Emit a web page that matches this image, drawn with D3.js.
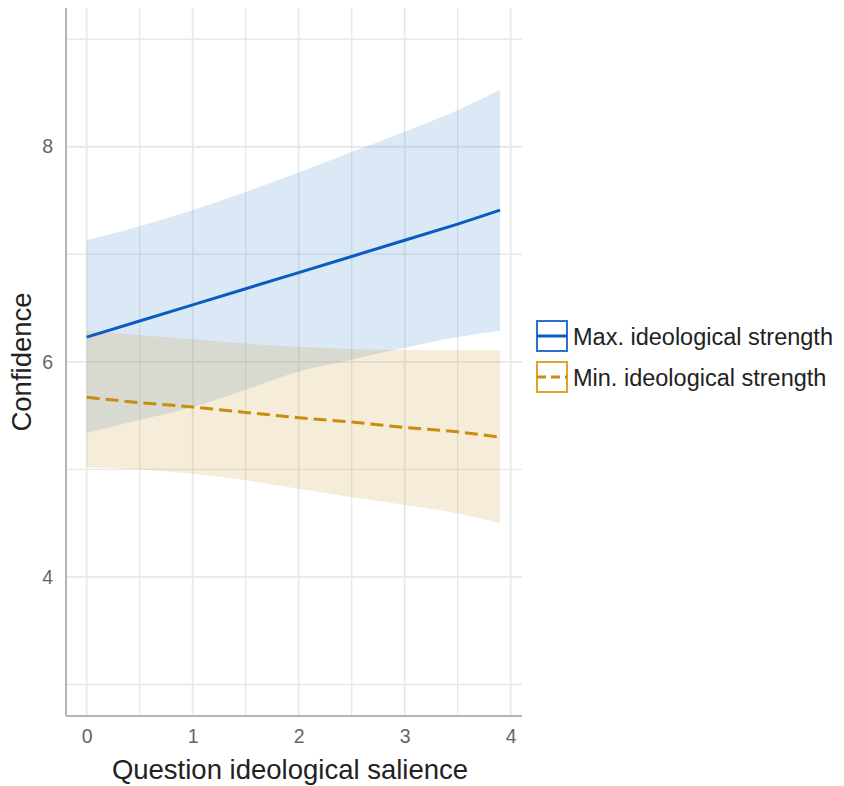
<!DOCTYPE html>
<html><head><meta charset="utf-8">
<script src="https://cdn.jsdelivr.net/npm/d3@7"></script>
<style>body{margin:0;background:#fff}svg{display:block}</style>
</head><body>
<svg id="c" width="844" height="786"></svg>
<script>
const xs        = [0, 0.5, 1, 1.5, 2, 2.5, 3, 3.5, 3.9];
const maxFit    = [6.23, 6.38, 6.53, 6.68, 6.83, 6.98, 7.13, 7.28, 7.41];
const maxLower  = [5.34, 5.46, 5.58, 5.74, 5.91, 6.02, 6.13, 6.23, 6.29];
const maxUpper  = [7.13, 7.26, 7.41, 7.58, 7.76, 7.95, 8.14, 8.34, 8.53];
const minFit    = [5.67, 5.62, 5.58, 5.53, 5.48, 5.44, 5.39, 5.35, 5.30];
const minLower  = [5.02, 5.00, 4.96, 4.90, 4.82, 4.74, 4.67, 4.59, 4.50];
const minUpper  = [6.29, 6.25, 6.21, 6.17, 6.14, 6.12, 6.11, 6.11, 6.11];
const seriesNames = ["Max. ideological strength", "Min. ideological strength"];
const xTicks = [0, 1, 2, 3, 4];
const yTicks = [4, 6, 8];
const xLabel = "Question ideological salience";
const yLabel = "Confidence";

const FONT = "Liberation Sans, Arial, sans-serif";
const svg = d3.select("#c");
const L = 66, R = 522, T = 8, B = 716;
const x = d3.scaleLinear().domain([-0.195, 4.107]).range([L, R]);
const y = d3.scaleLinear().domain([2.707, 9.29]).range([B, T]);

const grid = svg.append("g");
d3.range(0, 4.01, 0.5).forEach(v => {
  grid.append("line").attr("x1", x(v)).attr("x2", x(v)).attr("y1", T).attr("y2", B)
    .attr("stroke", "#e8e8e8").attr("stroke-width", v % 1 === 0 ? 1.8 : 1.4);
});
[3, 4, 5, 6, 7, 8, 9].forEach(v => {
  grid.append("line").attr("x1", L).attr("x2", R).attr("y1", y(v)).attr("y2", y(v))
    .attr("stroke", "#e8e8e8").attr("stroke-width", v % 2 === 0 ? 1.8 : 1.4);
});

const blueFill = "#4b8cd2", orgFill = "#cda541";
const blueLine = "#0a5cc2", orgLine = "#c98d0e";

const area = (lo, hi) => d3.area().curve(d3.curveMonotoneX)
  .x((d, i) => x(xs[i])).y0((d, i) => y(lo[i])).y1((d, i) => y(hi[i]))(xs);
svg.append("path").attr("d", area(maxLower, maxUpper)).attr("fill", blueFill).attr("fill-opacity", 0.2);
svg.append("path").attr("d", area(minLower, minUpper)).attr("fill", orgFill).attr("fill-opacity", 0.2);

const line = vals => d3.line().x((d, i) => x(xs[i])).y((d, i) => y(vals[i]))(xs);
svg.append("path").attr("d", line(maxFit)).attr("fill", "none").attr("stroke", blueLine).attr("stroke-width", 3);
svg.append("path").attr("d", line(minFit)).attr("fill", "none").attr("stroke", orgLine).attr("stroke-width", 3)
  .attr("stroke-dasharray", "13,6");

const xAxis = svg.append("g").attr("transform", `translate(0,${B})`)
  .call(d3.axisBottom(x).tickValues(xTicks).tickSize(0).tickPadding(13).tickFormat(d3.format("d")));
const yAxis = svg.append("g").attr("transform", `translate(${L},0)`)
  .call(d3.axisLeft(y).tickValues(yTicks).tickSize(0).tickPadding(13).tickFormat(d3.format("d")));
[xAxis, yAxis].forEach(a => {
  a.select(".domain").attr("stroke", "#b5b5b5").attr("stroke-width", 2);
  a.selectAll("text").attr("font-family", FONT).attr("font-size", 19.5).attr("fill", "#666");
});
xAxis.select(".domain").attr("d", `M${L},0H${R}`);
yAxis.select(".domain").attr("d", `M0,${T}V${B}`);

svg.append("text").attr("x", 290).attr("y", 779).attr("text-anchor", "middle")
  .attr("font-family", FONT).attr("font-size", 27.5).attr("fill", "#222").text(xLabel);
svg.append("text").attr("transform", `translate(31,362) rotate(-90)`).attr("text-anchor", "middle")
  .attr("font-family", FONT).attr("font-size", 27.5).attr("fill", "#222").text(yLabel);

const leg = svg.append("g");
const legItems = [
  {name: seriesNames[0], stroke: blueLine, box: "#2a73cc", dash: null},
  {name: seriesNames[1], stroke: orgLine, box: "#e0a32a", dash: "9,5"}
];
legItems.forEach((d, i) => {
  const g = leg.append("g").attr("transform", `translate(537,${321 + i * 41})`);
  g.append("rect").attr("width", 30).attr("height", 30).attr("fill", "#fff")
    .attr("stroke", d.box).attr("stroke-width", 2);
  g.append("line").attr("x1", 0).attr("x2", 30).attr("y1", 15).attr("y2", 15)
    .attr("stroke", d.stroke).attr("stroke-width", 3).attr("stroke-dasharray", d.dash);
  g.append("text").attr("x", 36).attr("y", 24).attr("font-family", FONT)
    .attr("font-size", 23.5).attr("fill", "#222").text(d.name);
});
</script>
</body></html>
